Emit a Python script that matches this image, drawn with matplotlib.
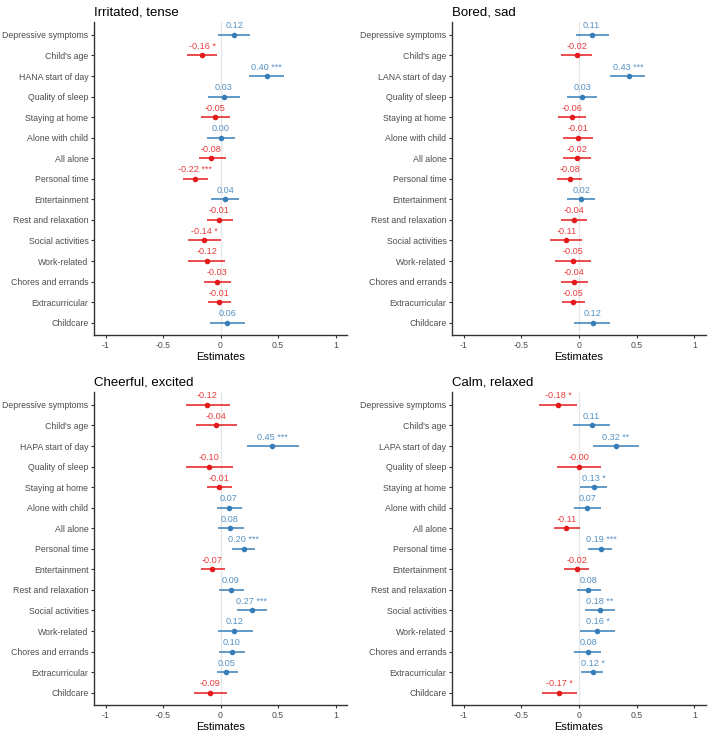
import matplotlib
matplotlib.use("Agg")
import matplotlib.pyplot as plt

plt.rcParams['font.family'] = ['Liberation Sans', 'DejaVu Sans']

terms_common = ["Depressive symptoms", "Child's age", "{} start of day", "Quality of sleep",
                "Staying at home", "Alone with child", "All alone", "Personal time",
                "Entertainment", "Rest and relaxation", "Social activities", "Work-related",
                "Chores and errands", "Extracurricular", "Childcare"]

titles = ["Irritated, tense", "Bored, sad", "Cheerful, excited", "Calm, relaxed"]
start_terms = ["HANA", "LANA", "HAPA", "LAPA"]

est_irritated = [0.12, -0.16, 0.40, 0.03, -0.05, 0.00, -0.08, -0.22, 0.04, -0.01, -0.14, -0.12, -0.03, -0.01, 0.06]
lo_irritated = [-0.02, -0.29, 0.25, -0.11, -0.17, -0.12, -0.19, -0.33, -0.08, -0.12, -0.28, -0.28, -0.14, -0.11, -0.09]
hi_irritated = [0.26, -0.03, 0.55, 0.17, 0.08, 0.13, 0.05, -0.11, 0.16, 0.11, 0.00, 0.04, 0.09, 0.09, 0.21]
sig_irritated = ["", "*", "***", "", "", "", "", "***", "", "", "*", "", "", "", ""]

est_bored = [0.11, -0.02, 0.43, 0.03, -0.06, -0.01, -0.02, -0.08, 0.02, -0.04, -0.11, -0.05, -0.04, -0.05, 0.12]
lo_bored = [-0.03, -0.16, 0.27, -0.10, -0.18, -0.14, -0.14, -0.19, -0.10, -0.16, -0.25, -0.21, -0.16, -0.15, -0.04]
hi_bored = [0.26, 0.11, 0.57, 0.16, 0.06, 0.12, 0.10, 0.03, 0.14, 0.07, 0.03, 0.10, 0.08, 0.05, 0.27]
sig_bored = ["", "", "***", "", "", "", "", "", "", "", "", "", "", "", ""]

est_cheerful = [-0.12, -0.04, 0.45, -0.10, -0.01, 0.07, 0.08, 0.20, -0.07, 0.09, 0.27, 0.12, 0.10, 0.05, -0.09]
lo_cheerful = [-0.30, -0.21, 0.23, -0.30, -0.12, -0.03, -0.02, 0.10, -0.17, -0.01, 0.14, -0.02, -0.01, -0.03, -0.23]
hi_cheerful = [0.08, 0.14, 0.68, 0.11, 0.10, 0.19, 0.20, 0.30, 0.04, 0.20, 0.40, 0.28, 0.21, 0.15, 0.06]
sig_cheerful = ["", "", "***", "", "", "", "", "***", "", "", "***", "", "", "", ""]

est_calm = [-0.18, 0.11, 0.32, -0.00, 0.13, 0.07, -0.11, 0.19, -0.02, 0.08, 0.18, 0.16, 0.08, 0.12, -0.17]
lo_calm = [-0.35, -0.05, 0.12, -0.19, 0.01, -0.04, -0.22, 0.08, -0.13, -0.02, 0.05, 0.01, -0.04, 0.02, -0.32]
hi_calm = [-0.02, 0.27, 0.52, 0.19, 0.24, 0.19, 0.01, 0.29, 0.09, 0.19, 0.31, 0.31, 0.19, 0.21, -0.02]
sig_calm = ["*", "", "**", "", "*", "", "", "***", "", "", "**", "*", "", "*", "*"]
neg_calm = [True, False, False, True, False, False, True, False, True, False, False, False, False, False, True]

panels = [
    (est_irritated, lo_irritated, hi_irritated, sig_irritated, None),
    (est_bored, lo_bored, hi_bored, sig_bored, None),
    (est_cheerful, lo_cheerful, hi_cheerful, sig_cheerful, None),
    (est_calm, lo_calm, hi_calm, sig_calm, neg_calm),
]

RED = "#E41A1C"
BLUE = "#377EB8"
GRAY_TXT = "#4D4D4D"

W, H = 709, 732
fig = plt.figure(figsize=(W / 100, H / 100), dpi=100)

boxes = [(94, 22, 347, 335), (452, 22, 706, 335), (94, 392, 347, 705), (452, 392, 706, 705)]

for k, (est, lo, hi, sig, neg) in enumerate(panels):
    x0, y0, x1, y1 = boxes[k]
    ax = fig.add_axes([x0 / W, 1 - y1 / H, (x1 - x0) / W, (y1 - y0) / H])
    labels = [t.format(start_terms[k]) for t in terms_common]
    n = len(labels)
    ax.axvline(0, color="#E6E6E6", lw=0.9, zorder=0)
    for i in range(n):
        negative = neg[i] if neg is not None else est[i] < 0
        c = RED if negative else BLUE
        ax.plot([lo[i], hi[i]], [i, i], color=c, lw=1.1, solid_capstyle="butt", zorder=2)
        ax.plot(est[i], i, "o", color=c, ms=3.0, zorder=3)
        txt = f"{est[i]:.2f}"
        if negative and est[i] == 0:
            txt = "-0.00"
        if sig[i]:
            txt += " " + sig[i]
        ax.text(est[i], i - 0.22, txt, color=c, alpha=0.85, fontsize=6.6,
                ha="center", va="bottom")
    ax.set_yticks(range(n))
    ax.set_yticklabels(labels)
    ax.set_ylim(n - 1 + 0.6, -0.63)
    ax.set_xlim(-1.1, 1.1)
    ax.set_xticks([-1, -0.5, 0, 0.5, 1])
    ax.set_xticklabels(["-1", "-0.5", "0", "0.5", "1"])
    for s in ["top", "right"]:
        ax.spines[s].set_visible(False)
    for s in ["left", "bottom"]:
        ax.spines[s].set_color("#333333")
        ax.spines[s].set_linewidth(1.0)
    ax.tick_params(axis="both", colors="#333333", labelcolor=GRAY_TXT, labelsize=6.3,
                   length=2.5, width=0.8, pad=1.5)
    ax.set_xlabel("Estimates", fontsize=8, color="black", labelpad=1.5)
    ax.set_title(titles[k], fontsize=9.5, loc="left", pad=5, color="black")

fig.savefig("out.png", dpi=100)
